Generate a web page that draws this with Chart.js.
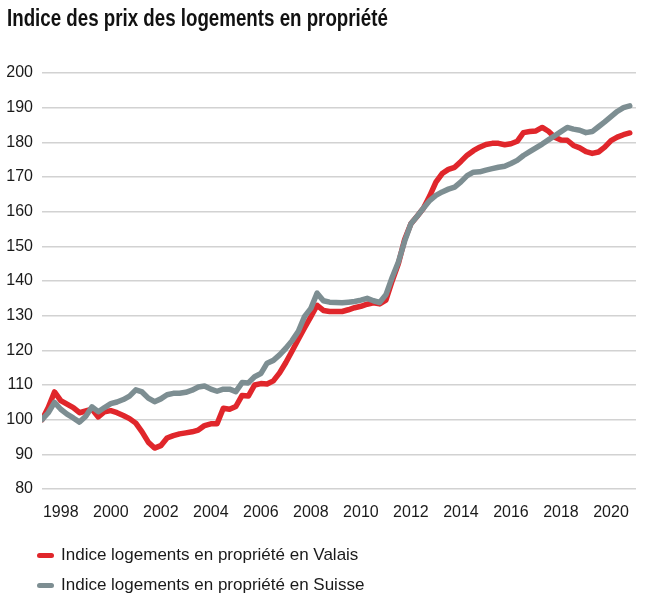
<!DOCTYPE html>
<html>
<head>
<meta charset="utf-8">
<script src="https://cdn.jsdelivr.net/npm/chart.js@4.4.1/dist/chart.umd.min.js"></script>
<style>
  html, body { margin: 0; padding: 0; background: #ffffff; }
  #wrap { position: relative; width: 646px; height: 602px; overflow: hidden; }
  #legend { position: absolute; left: 0; top: 0; width: 646px; height: 602px; pointer-events: none; }
  #title { position: absolute; left: 7px; top: 5px; font-family: "Liberation Sans", Arial, sans-serif; font-weight: bold;
           font-size: 23px; line-height: 26px; color: #111111; white-space: nowrap; transform-origin: 0 0; }
  .lg-sw { position: absolute; width: 17px; height: 5px; border-radius: 3px; }
  .lg-tx { position: absolute; font-family: "Liberation Sans", Arial, sans-serif; font-size: 17px; color: #1a1a1a; line-height: 20px; white-space: nowrap; }
</style>
</head>
<body>
<div id="wrap">
  <canvas id="c" width="646" height="530"></canvas>
  <div id="title"></div>
  <div id="legend"></div>
</div>
<script>
// ---- data ----
const chartTitle = "Indice des prix des logements en propriété";
const seriesNames = ["Indice logements en propriété en Valais", "Indice logements en propriété en Suisse"];
const seriesColors = ["#e0262b", "#7d8e92"];
const firstQuarterYear = 1997.25; // 1997 T2, quarterly observations
const tickYears = [1998, 2000, 2002, 2004, 2006, 2008, 2010, 2012, 2014, 2016, 2018, 2020];
const yTicks = [80, 90, 100, 110, 120, 130, 140, 150, 160, 170, 180, 190, 200];

const valais = [100,103.5,108,105.5,104.5,103.5,102,102.5,103,100.8,
  102.3,102.6,102,101.2,100.3,99,96.5,93.5,91.8,92.5,
  94.7,95.4,95.9,96.2,96.5,97,98.3,98.8,98.8,103.3,
  103,103.8,107,106.8,110,110.4,110.3,111.2,113.5,116.5,
  119.8,123.2,126.5,129.7,133,131.5,131.2,131.2,131.2,131.7,
  132.3,132.7,133.3,133.7,133.4,134.5,140,145,152,156.5,
  158.7,161,164.5,168.5,171,172.2,172.8,174.5,176.3,177.6,
  178.6,179.4,179.7,179.7,179.3,179.6,180.3,182.8,183.1,183.3,
  184.3,183.2,181.5,180.7,180.6,179.1,178.4,177.3,176.8,177.2,
  178.6,180.5,181.5,182.2,182.7];

const suisse = [100,102,105,103,101.6,100.5,99.3,101,103.7,102.3,
  103.5,104.6,105.1,105.8,106.8,108.6,108,106.2,105.2,106,
  107.2,107.6,107.6,107.9,108.5,109.4,109.7,108.8,108.2,108.8,
  108.8,108.1,110.7,110.6,112.4,113.3,116.3,117.1,118.7,120.6,
  122.8,125.5,129.8,132.1,136.5,134.3,133.9,133.8,133.7,133.9,
  134.1,134.5,135,134.3,133.8,136,141,145.5,151.5,156.5,
  158.7,161,163.2,164.7,165.7,166.5,167.1,168.6,170.4,171.4,
  171.5,172,172.4,172.8,173.1,173.9,174.8,176.2,177.3,178.4,
  179.5,180.7,181.9,183.1,184.3,183.8,183.5,182.8,183.1,184.5,
  185.9,187.4,188.9,190,190.5];

// ---- build ----
const quarterX = valais.map((_, i) => firstQuarterYear + i * 0.25);
const toPts = arr => arr.map((v, i) => ({ x: quarterX[i], y: v }));
const tickFont = { family: '"Liberation Sans", Arial, sans-serif', size: 16 };

new Chart(document.getElementById('c'), {
  type: 'line',
  data: {
    datasets: [
      { label: seriesNames[0], data: toPts(valais), borderColor: seriesColors[0], backgroundColor: seriesColors[0],
        borderWidth: 5.5, pointRadius: 0, tension: 0, borderJoinStyle: 'round', borderCapStyle: 'round', order: 2 },
      { label: seriesNames[1], data: toPts(suisse), borderColor: seriesColors[1], backgroundColor: seriesColors[1],
        borderWidth: 5.5, pointRadius: 0, tension: 0, borderJoinStyle: 'round', borderCapStyle: 'round', order: 1 }
    ]
  },
  options: {
    responsive: false,
    animation: false,
    events: [],
    layout: { padding: { left: 6, right: 10, top: 73, bottom: 0 } },
    plugins: {
      legend: { display: false },
      tooltip: { enabled: false },
      title: { display: false }
    },
    scales: {
      x: {
        type: 'linear', min: 1997.25, max: 2021,
        grid: { display: false }, border: { display: false },
        afterBuildTicks: s => { s.ticks = tickYears.map(v => ({ value: v })); },
        afterFit: s => { s.height = 41; },
        ticks: { font: tickFont, color: '#1a1a1a', padding: 6, maxRotation: 0, autoSkip: false, callback: v => String(v) }
      },
      y: {
        min: 80, max: 200,
        afterBuildTicks: s => { s.ticks = yTicks.map(v => ({ value: v })); },
        afterFit: s => { s.width = 36; },
        grid: { color: '#d2d2d2', lineWidth: 1.5, drawTicks: false },
        border: { display: false },
        ticks: { font: tickFont, color: '#1a1a1a', padding: 9, callback: v => String(v) }
      }
    }
  }
});

// title (HTML text, condensed to the reference width)
const t = document.getElementById('title');
t.textContent = chartTitle;
const targetTitleWidth = 381;
t.style.transform = 'scaleX(' + (targetTitleWidth / t.scrollWidth) + ')';

// legend (HTML, built from the series arrays)
const lg = document.getElementById('legend');
const rowCenters = [555, 585];
seriesNames.forEach((name, i) => {
  const sw = document.createElement('div');
  sw.className = 'lg-sw';
  sw.style.left = '37px';
  sw.style.top = (rowCenters[i] - 2.5) + 'px';
  sw.style.background = seriesColors[i];
  lg.appendChild(sw);
  const tx = document.createElement('div');
  tx.className = 'lg-tx';
  tx.style.left = '61px';
  tx.style.top = (rowCenters[i] - 10) + 'px';
  tx.textContent = name;
  lg.appendChild(tx);
});
</script>
</body>
</html>
